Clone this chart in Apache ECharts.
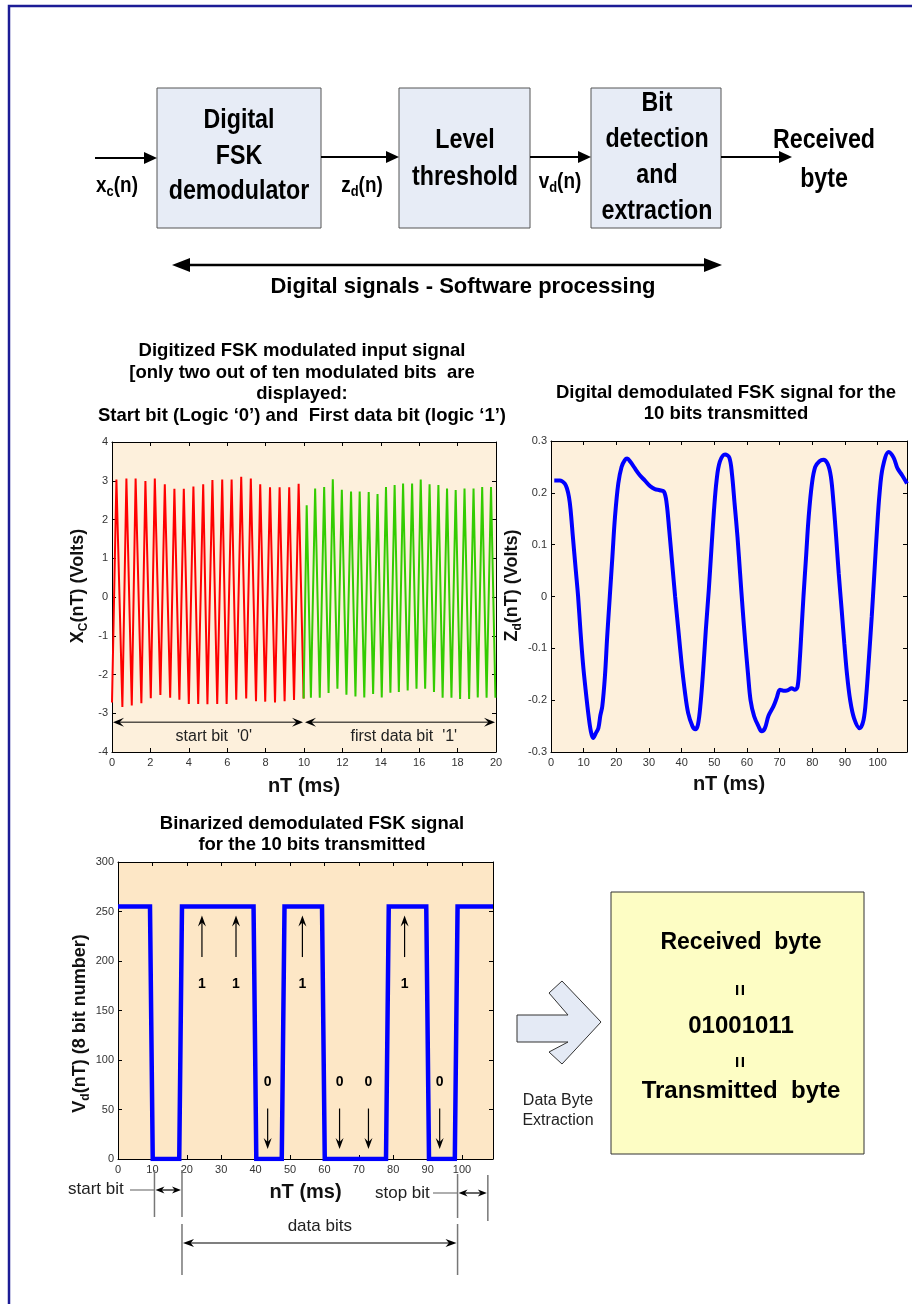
<!DOCTYPE html>
<html><head><meta charset="utf-8">
<script src="https://cdn.jsdelivr.net/npm/echarts@6/dist/echarts.min.js"></script>
<style>html,body{margin:0;padding:0;background:#fff;}#c{width:912px;height:1304px;}</style>
</head><body><div id="c"></div>
<script>
// ---------------- DATA ----------------
// Digitized FSK input: successive trough / peak extremes
const fskStartBitT = [0,0.23,0.54,0.75,1.03,1.23,1.53,1.74,2.02,2.23,2.52,2.75,3.03,3.25,3.51,3.74,4.0,4.24,4.49,4.75,4.97,5.23,5.48,5.74,5.97,6.23,6.47,6.73,6.99,7.23,7.5,7.72,7.98,8.23,8.49,8.73,8.99,9.23,9.48,9.72,9.98];
const fskStartBitV = [-2.72,3.03,-2.84,3.06,-2.8,3.06,-2.74,2.99,-2.61,3.06,-2.53,2.91,-2.6,2.79,-2.65,2.79,-2.76,2.85,-2.76,2.91,-2.77,3.02,-2.76,3.03,-2.76,3.03,-2.65,3.1,-2.62,3.06,-2.69,2.91,-2.7,2.83,-2.72,2.83,-2.69,2.83,-2.66,2.92,-2.62];
const fskDataBitT = [9.98,10.14,10.36,10.58,10.82,11.05,11.28,11.5,11.74,11.97,12.21,12.45,12.68,12.9,13.14,13.37,13.6,13.83,14.05,14.27,14.5,14.72,14.94,15.16,15.4,15.63,15.86,16.08,16.31,16.54,16.77,17.0,17.22,17.45,17.68,17.9,18.13,18.36,18.6,18.83,19.05,19.28,19.51,19.74,19.97];
const fskDataBitV = [-2.62,2.37,-2.6,2.8,-2.6,2.84,-2.48,3.04,-2.37,2.77,-2.52,2.72,-2.57,2.72,-2.59,2.71,-2.5,2.66,-2.59,2.84,-2.47,2.89,-2.45,2.93,-2.41,2.93,-2.37,3.03,-2.37,2.91,-2.45,2.89,-2.6,2.8,-2.6,2.76,-2.63,2.8,-2.63,2.8,-2.59,2.84,-2.6,2.84,-2.6];
// Demodulated signal
const demodT = [1,2.7,4.2,4.9,5.5,6.0,6.7,7.6,8.3,9.0,9.8,10.6,11.5,12.2,12.9,13.7,14.5,15.1,15.7,16.5,17.2,18.0,18.8,19.6,20.6,21.6,22.6,23.3,24.3,25.7,27.2,28.7,30.3,31.8,33.3,34.6,35.4,36.2,37.1,38.0,39.0,40.0,41.0,42.0,43.3,44.2,45.0,45.8,46.6,47.4,48.3,49.1,49.9,50.7,51.7,53.3,54.6,55.4,56.2,57.1,57.9,58.7,59.5,60.3,61.1,62.2,63.5,64.5,65.5,66.6,68.1,69.1,70.1,71.2,72.4,73.7,74.7,75.5,76.1,76.7,77.3,78.1,78.9,79.9,80.9,82.2,83.4,84.7,85.7,86.5,87.3,88.1,89.0,89.8,90.6,91.6,92.8,94.5,95.7,96.5,97.3,98.2,99.0,99.8,100.6,101.6,103.4,104.9,106.1,107.5,109];
const demodV = [0.224,0.224,0.218,0.208,0.192,0.167,0.115,0.05,0.0,-0.065,-0.13,-0.18,-0.23,-0.26,-0.273,-0.264,-0.254,-0.23,-0.212,-0.155,-0.078,0,0.077,0.154,0.218,0.25,0.263,0.266,0.26,0.247,0.234,0.224,0.213,0.207,0.205,0.202,0.18,0.128,0.064,0,-0.065,-0.13,-0.184,-0.225,-0.25,-0.256,-0.247,-0.206,-0.142,-0.065,0.012,0.09,0.166,0.224,0.26,0.274,0.268,0.237,0.18,0.115,0.044,-0.026,-0.09,-0.148,-0.2,-0.231,-0.25,-0.26,-0.254,-0.23,-0.212,-0.196,-0.18,-0.182,-0.181,-0.177,-0.18,-0.174,-0.129,-0.065,0,0.077,0.154,0.218,0.25,0.261,0.264,0.256,0.231,0.18,0.115,0.044,-0.026,-0.09,-0.148,-0.2,-0.235,-0.254,-0.238,-0.193,-0.123,-0.039,0.044,0.128,0.199,0.25,0.279,0.268,0.247,0.234,0.218];
// Binarized signal
const binT = [0,9.3,10.1,17.8,18.6,39.4,40.2,47.6,48.4,59.3,60.1,77.9,78.7,89.6,90.4,97.9,98.7,109];
const binV = [255,255,0,0,255,255,0,0,255,255,0,0,255,255,0,0,255,255];
// Bit markers
const oneBitX = [24.4,34.3,53.6,83.3];
const zeroBitX = [43.5,64.4,72.8,93.5];
const bitBoundaryX = {startBit:[10.6,18.6], stopBit:[98.7,107.5]};
// Axis ranges / ticks
const ax1 = {x:[0,20,2], y:[-4,4,1]};
const ax2 = {x:[0,109,10], y:[-0.3,0.3,0.1]};
const ax3 = {x:[0,109,10], y:[0,300,50]};
// Texts
const title1 = ['Digitized FSK modulated input signal','[only two out of ten modulated bits  are','displayed:','Start bit (Logic \u20180\u2019) and  First data bit (logic \u20181\u2019)'];
const title2 = ['Digital demodulated FSK signal for the','10 bits transmitted'];
const title3 = ['Binarized demodulated FSK signal','for the 10 bits transmitted'];
const byteText = '01001011';

// ---------------- CHART ----------------
const FONT = "'Liberation Sans', Arial, Helvetica, sans-serif";
const zip = (a,b) => a.map((v,i)=>[v,b[i]]);
const chart = echarts.init(document.getElementById('c'), null, {renderer:'canvas'});

const grids = [
  {left:112, top:442, width:384, height:310, show:true, backgroundColor:'#fdf0dc', borderWidth:0},
  {left:551, top:441, width:356, height:311, show:true, backgroundColor:'#fdf0dc', borderWidth:0},
  {left:118, top:862, width:375, height:297, show:true, backgroundColor:'#fde7c6', borderWidth:0}
];
const nameRich = {
  a:{fontSize:18, fontWeight:'bold', fontFamily:FONT, color:'#111', lineHeight:24},
  s:{fontSize:12, fontWeight:'bold', fontFamily:FONT, color:'#111', lineHeight:24, verticalAlign:'bottom'}
};
function xAxes(gi, r, fmt, gap){
  const base = {gridIndex:gi, type:'value', min:r[0], max:r[1], interval:r[2],
    axisLine:{show:true, onZero:false, lineStyle:{color:'#000', width:1}},
    axisTick:{show:true, inside:true, length:4, lineStyle:{color:'#000'}},
    splitLine:{show:false}};
  return [
    Object.assign({}, base, {position:'bottom',
      axisLabel:{color:'#333', fontSize:11, fontFamily:FONT, margin:5, formatter:fmt},
      name:'nT (ms)', nameLocation:'middle', nameGap:gap,
      nameTextStyle:{fontSize:20, fontWeight:'bold', fontFamily:FONT, color:'#111'}}),
    Object.assign({}, base, {position:'top', axisLabel:{show:false}})
  ];
}
function yAxes(gi, r, fmt, name, gap, pad){
  const base = {gridIndex:gi, type:'value', min:r[0], max:r[1], interval:r[2],
    axisLine:{show:true, onZero:false, lineStyle:{color:'#000', width:1}},
    axisTick:{show:true, inside:true, length:4, lineStyle:{color:'#000'}},
    splitLine:{show:false}};
  return [
    Object.assign({}, base, {position:'left',
      axisLabel:{color:'#333', fontSize:11, fontFamily:FONT, margin:4, formatter:fmt},
      name:name, nameLocation:'middle', nameGap:gap,
      nameTextStyle:{rich:nameRich, padding:pad}}),
    Object.assign({}, base, {position:'right', axisLabel:{show:false}})
  ];
}
const fmtInt = v => String(Math.round(v));
const fmt10 = v => (Math.abs(v % 10) < 1e-9 ? String(v) : '');
const fmtDec = v => { const r = Math.round(v*10)/10; return r === 0 ? '0' : String(r); };

const option = {
  animation:false,
  backgroundColor:'#ffffff',
  grid: grids,
  xAxis: [].concat(xAxes(0, ax1.x, fmtInt, 24), xAxes(1, ax2.x, fmt10, 22), xAxes(2, ax3.x, fmt10, 23)),
  yAxis: [].concat(
    yAxes(0, ax1.y, fmtInt, '{a|X}{s|C}{a|(nT) (Volts)}', 22, [0,0,0,22]),
    yAxes(1, ax2.y, fmtDec, '{a|Z}{s|d}{a|(nT) (Volts)}', 16, [0,0,0,22]),
    yAxes(2, ax3.y, fmtInt, '{a|V}{s|d}{a|(nT) (8 bit number)}', 24, [0,26,0,0])),
  series: [
    {type:'line', name:'start bit', xAxisIndex:0, yAxisIndex:0, data:zip(fskStartBitT, fskStartBitV),
      symbol:'none', lineStyle:{color:'#ff0000', width:2}, z:3},
    {type:'line', name:'first data bit', xAxisIndex:0, yAxisIndex:0, data:zip(fskDataBitT, fskDataBitV),
      symbol:'none', lineStyle:{color:'#33cc00', width:2}, z:3},
    {type:'line', name:'demodulated', xAxisIndex:2, yAxisIndex:2, data:zip(demodT, demodV),
      symbol:'none', smooth:0.35, lineStyle:{color:'#0000ff', width:4}, z:3},
    {type:'line', name:'binarized', xAxisIndex:4, yAxisIndex:4, data:zip(binT, binV),
      symbol:'none', lineStyle:{color:'#0000ff', width:4.5, join:'miter'}, z:3}
  ]
};
chart.setOption(option);

// ---------------- GRAPHIC HELPERS ----------------
const P = (si, x, y) => chart.convertToPixel({seriesIndex:si}, [x, y]);
function L(x1,y1,x2,y2,color,w){ return {type:'line', silent:true, z:10, shape:{x1,y1,x2,y2}, style:{stroke:color, lineWidth:w}}; }
function head(tx,ty,fx,fy,len,hw,notch,color){
  const dx=tx-fx, dy=ty-fy, d=Math.hypot(dx,dy), ux=dx/d, uy=dy/d, nx=-uy, ny=ux;
  const bx=tx-ux*len, by=ty-uy*len, ix=tx-ux*len*notch, iy=ty-uy*len*notch;
  return {type:'polygon', silent:true, z:11, shape:{points:[[tx,ty],[bx+nx*hw,by+ny*hw],[ix,iy],[bx-nx*hw,by-ny*hw]]}, style:{fill:color, stroke:null}};
}
function arrow(x1,y1,x2,y2,o){
  const dx=x2-x1, dy=y2-y1, d=Math.hypot(dx,dy), ux=dx/d, uy=dy/d;
  const k = o.len*Math.min(o.notch,1)*0.9;
  const sx = o.both ? x1+ux*k : x1, sy = o.both ? y1+uy*k : y1;
  const out = [L(sx,sy,x2-ux*k,y2-uy*k,o.color,o.w), head(x2,y2,x1,y1,o.len,o.hw,o.notch,o.color)];
  if (o.both) out.push(head(x1,y1,x2,y2,o.len,o.hw,o.notch,o.color));
  return out;
}
function T(x,y,str,font,o){
  o = o || {};
  const st = {text:str, font:font, fill:o.color||'#000', align:o.align||'center', verticalAlign:'middle'};
  if (o.rich) st.rich = o.rich;
  return {type:'text', silent:true, z:12, x:x, y:y, rotation:o.rot||0, scaleX:o.sx||1, style:st};
}
const G = [];
const push = a => { if (Array.isArray(a)) a.forEach(e=>G.push(e)); else G.push(a); };

// Outer frame
push({type:'polyline', silent:true, shape:{points:[[9,1304],[9,6],[912,6]]}, style:{stroke:'#1c1c96', lineWidth:2.5, fill:null}});

// ---------------- BLOCK DIAGRAM ----------------
const boxFill = '#e7ecf6', boxStroke = '#555';
[[157,88,164,140],[399,88,131,140],[591,88,130,140]].forEach(b=>{
  push({type:'rect', silent:true, shape:{x:b[0],y:b[1],width:b[2],height:b[3]}, style:{fill:boxFill, stroke:boxStroke, lineWidth:1}});
});
const BF = 'bold 27px ' + FONT;
push(T(239,121,'Digital',BF,{sx:0.86}));
push(T(239,157,'FSK',BF,{sx:0.86}));
push(T(239,192,'demodulator',BF,{sx:0.86}));
push(T(465,141,'Level',BF,{sx:0.86}));
push(T(465,178,'threshold',BF,{sx:0.86}));
push(T(657,104,'Bit',BF,{sx:0.86}));
push(T(657,140,'detection',BF,{sx:0.86}));
push(T(657,176,'and',BF,{sx:0.86}));
push(T(657,212,'extraction',BF,{sx:0.86}));
push(T(824,141,'Received',BF,{sx:0.86}));
push(T(824,180,'byte',BF,{sx:0.86}));
const arrO = {len:13, hw:6, notch:1, color:'#000', w:2};
push(arrow(95,158,157,158,arrO));
push(arrow(321,157,399,157,arrO));
push(arrow(530,157,591,157,arrO));
push(arrow(721,157,792,157,arrO));
const subRich = {
  a:{font:'bold 22px '+FONT, fill:'#000', lineHeight:26},
  s:{font:'bold 15px '+FONT, fill:'#000', lineHeight:26, verticalAlign:'bottom'}
};
push(T(117,186,'{a|x}{s|c}{a|(n)}','bold 22px '+FONT,{sx:0.86, rich:subRich}));
push(T(362,186,'{a|z}{s|d}{a|(n)}','bold 22px '+FONT,{sx:0.86, rich:subRich}));
push(T(560,182,'{a|v}{s|d}{a|(n)}','bold 22px '+FONT,{sx:0.86, rich:subRich}));
push(arrow(172,265,722,265,{len:18, hw:7, notch:1, color:'#000', w:2.5, both:true}));
push(T(463,287,'Digital signals - Software processing','bold 22px '+FONT));

// ---------------- CHART TITLES ----------------
const TF = 'bold 18.5px ' + FONT;
[351,373,394,416].forEach((y,i)=>push(T(302,y,title1[i],TF)));
[393,414].forEach((y,i)=>push(T(726,y,title2[i],TF)));
[824,845].forEach((y,i)=>push(T(312,y,title3[i],TF)));

// ---------------- CHART 1 ANNOTATIONS ----------------
{
  const a = P(0,0,-3.23), b = P(0,10,-3.23), c = P(0,20,-3.23);
  const o = {len:11, hw:4.5, notch:0.6, color:'#000', w:1, both:true};
  push(arrow(a[0]+1,a[1],b[0]-1,b[1],o));
  push(arrow(b[0]+1,b[1],c[0]-1,c[1],o));
  const t1 = P(0,5.3,-3.6), t2 = P(0,15.2,-3.6);
  push(T(t1[0],t1[1],"start bit  '0'",'16px '+FONT,{color:'#222'}));
  push(T(t2[0],t2[1],"first data bit  '1'",'16px '+FONT,{color:'#222'}));
}

// ---------------- CHART 3 ANNOTATIONS ----------------
{
  const o = {len:11, hw:4, notch:0.65, color:'#000', w:1.2};
  oneBitX.forEach(x=>{
    const p0 = P(3,x,204), p1 = P(3,x,246), pl = P(3,x,177);
    push(arrow(p0[0],p0[1],p1[0],p1[1],o));
    push(T(pl[0],pl[1],'1','bold 14px '+FONT));
  });
  zeroBitX.forEach(x=>{
    const p0 = P(3,x,51), p1 = P(3,x,10), pl = P(3,x,78);
    push(arrow(p0[0],p0[1],p1[0],p1[1],o));
    push(T(pl[0],pl[1],'0','bold 14px '+FONT));
  });
  const gx = v => P(3,v,0)[0];
  const s0 = gx(bitBoundaryX.startBit[0]), s1 = gx(bitBoundaryX.startBit[1]);
  const e0 = gx(bitBoundaryX.stopBit[0]), e1 = gx(bitBoundaryX.stopBit[1]);
  const gray = '#777';
  push(L(s0,1170,s0,1217,gray,1.5));
  push(L(s1,1170,s1,1217,gray,1.5));
  push(L(s1,1224,s1,1275,gray,1.5));
  push(L(e0,1174,e0,1218,gray,1.5));
  push(L(e0,1224,e0,1275,gray,1.5));
  push(L(e1,1175,e1,1221,gray,1.5));
  const so = {len:9, hw:3.5, notch:0.7, color:'#000', w:1.2, both:true};
  push(T(68,1189,'start bit','17px '+FONT,{color:'#222', align:'left'}));
  push(L(130,1190,s0,1190,gray,1.2));
  push(arrow(s0+1,1190,s1-1,1190,so));
  push(T(375,1193,'stop bit','17px '+FONT,{color:'#222', align:'left'}));
  push(L(433,1193,e0,1193,gray,1.2));
  push(arrow(e0+1,1193,e1-1,1193,so));
  push(T((s1+e0)/2,1226,'data bits','17px '+FONT,{color:'#222'}));
  push(arrow(s1+1,1243,e0-1,1243,{len:11, hw:4, notch:0.7, color:'#000', w:1.2, both:true}));
}

// ---------------- BYTE EXTRACTION ----------------
push({type:'polygon', silent:true, shape:{points:[[517,1015],[568,1015],[549,993],[562,981],[601,1022],[562,1064],[549,1052],[568,1042],[517,1042]]},
  style:{fill:'#e4eaf5', stroke:'#333', lineWidth:1}});
push(T(558,1101,'Data Byte','16px '+FONT,{color:'#222'}));
push(T(558,1121,'Extraction','16px '+FONT,{color:'#222'}));
push({type:'rect', silent:true, shape:{x:611,y:892,width:253,height:262}, style:{fill:'#fdfdc4', stroke:'#333', lineWidth:1}});
push(T(741,943,'Received  byte','bold 23px '+FONT));
push(T(741,990,'=','bold 20px '+FONT,{rot:Math.PI/2}));
push(T(741,1026,byteText,'bold 24px '+FONT));
push(T(741,1062,'=','bold 20px '+FONT,{rot:Math.PI/2}));
push(T(741,1091,'Transmitted  byte','bold 24px '+FONT));

chart.setOption({graphic:{elements:G}});
</script>
</body></html>
